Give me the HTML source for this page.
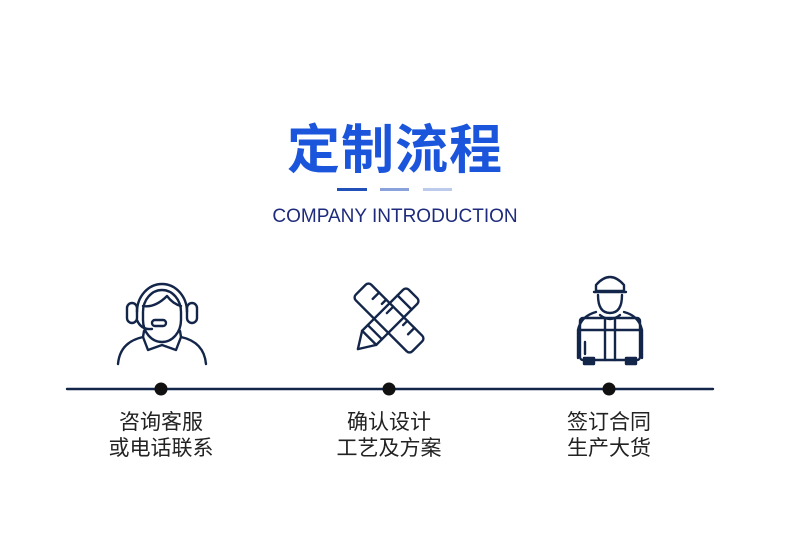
<!DOCTYPE html>
<html><head><meta charset="utf-8"><style>
body{margin:0;width:790px;height:560px;background:#fff;position:relative;overflow:hidden;font-family:"Liberation Sans","Noto Sans CJK SC",sans-serif}
.t{position:absolute;left:0;width:790px;text-align:center}
</style></head><body>
<div class="t" style="top:108px;font-size:53px;font-weight:bold;color:#1a55dc;letter-spacing:1px;font-family:'Noto Sans CJK SC',sans-serif">定制流程</div>
<div style="position:absolute;top:188px;left:337px;width:30px;height:3px;background:#2150b8"></div>
<div style="position:absolute;top:188px;left:380px;width:29px;height:3px;background:#8aa2dc"></div>
<div style="position:absolute;top:188px;left:423px;width:29px;height:3px;background:#bccbeb"></div>
<div class="t" style="top:206px;font-size:19px;color:#1e2b7c;font-family:'Liberation Sans',sans-serif">COMPANY INTRODUCTION</div>
<svg width="790" height="560" style="position:absolute;left:0;top:0" fill="none" stroke="#13264a" stroke-width="2.4" stroke-linecap="round" stroke-linejoin="round">
<line x1="67" y1="389" x2="713" y2="389" stroke-width="2.4"/>
<circle cx="161" cy="389" r="6.5" fill="#111" stroke="none"/>
<circle cx="389" cy="389" r="6.5" fill="#111" stroke="none"/>
<circle cx="609" cy="389" r="6.5" fill="#111" stroke="none"/>
<path d="M137 312 a25 28 0 0 1 50 0"/>
<path d="M143 312 a19 22 0 0 1 38 0 v8 a19 22 0 0 1 -38 0z"/>
<path d="M143 306 q12 2 24 -10 q6 8 14 10"/>
<rect x="127" y="303" width="10" height="20" rx="5"/>
<rect x="187" y="303" width="10" height="20" rx="5"/>
<path d="M137 320 q4 10 15 9"/><rect x="152" y="320" width="14" height="6" rx="3"/>
<path d="M118 364 q2 -22 25 -27 l1 -6 M206 364 q-2 -22 -25 -27 l-1 -6"/>
<path d="M143 337 l5 13 l14 -5 l14 5 l5 -13"/>
<g transform="translate(389,318) rotate(45)">
<rect x="-40" y="-11" width="80" height="22" rx="4"/>
<path d="M-25 -11 v9 M-15 -11 v6 M-5 -11 v9 M25 -11 v9 M15 -11 v6"/>
</g>
<g transform="translate(389,318) rotate(-45)">
<path d="M-28 -10 h58 a4 4 0 0 1 4 4 v12 a4 4 0 0 1 -4 4 h-58 l-16 -10z"/>
<path d="M-28 -10 v20 M-20 -10 v20 M22 -10 v20"/>
</g>
<path d="M596 285 q14 -16 28 0 v6 h-28z"/>
<path d="M594 292 h32"/>
<path d="M598 295 q0 18 12 18 q12 0 12 -18"/>
<path d="M596 312 q-15 4 -18 18 v28 M624 312 q15 4 18 18 v28"/>
<path d="M600 315 q10 8 20 0"/>
<rect x="580" y="318" width="60" height="42" rx="3"/>
<path d="M580 330 h60 M605 318 v42 M615 318 v42 M585 342 v12"/>
<rect x="584" y="358" width="10" height="6" fill="#13264a"/>
<rect x="626" y="358" width="10" height="6" fill="#13264a"/>
</svg>
<div style="position:absolute;top:410px;left:61px;width:200px;text-align:center;font-size:21px;line-height:26px;color:#222">咨询客服<br>或电话联系</div>
<div style="position:absolute;top:410px;left:289px;width:200px;text-align:center;font-size:21px;line-height:26px;color:#222">确认设计<br>工艺及方案</div>
<div style="position:absolute;top:410px;left:509px;width:200px;text-align:center;font-size:21px;line-height:26px;color:#222">签订合同<br>生产大货</div>
</body></html>
